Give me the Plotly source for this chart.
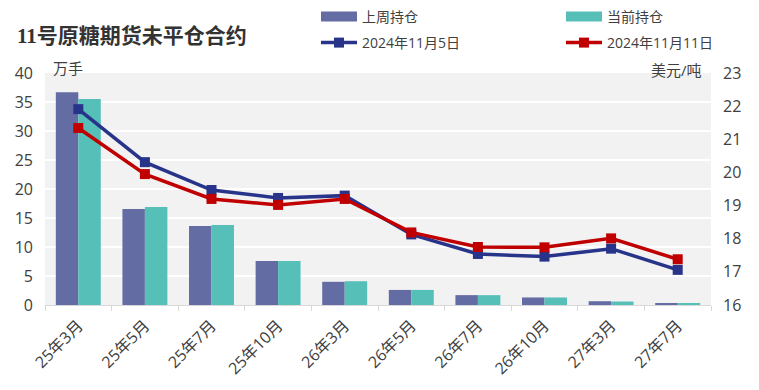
import plotly.graph_objects as go

categories = ["25年3月", "25年5月", "25年7月", "25年10月", "26年3月",
              "26年5月", "26年7月", "26年10月", "27年3月", "27年7月"]
prev_oi = [36.7, 16.55, 13.6, 7.6, 4.0, 2.6, 1.7, 1.3, 0.65, 0.2]
curr_oi = [35.5, 16.9, 13.8, 7.6, 4.1, 2.6, 1.7, 1.3, 0.6, 0.2]
price_1105 = [21.91, 20.31, 19.47, 19.23, 19.30, 18.13, 17.54, 17.46, 17.70, 17.06]
price_1111 = [21.34, 19.95, 19.20, 19.02, 19.20, 18.19, 17.75, 17.74, 18.01, 17.38]

FONT = "Open Sans, Noto Sans CJK SC, sans-serif"
GRAY = "#404040"
C_PREV = "#646ca4"
C_CURR = "#56c0b8"
C_L1 = "#28348a"
C_L2 = "#c00000"
W, H = 759, 390
ML, MR, MT, MB = 45, 48, 73, 85
PW, PH = W - ML - MR, H - MT - MB

fig = go.Figure()
fig.add_trace(go.Bar(x=categories, y=prev_oi, name="上周持仓", showlegend=False,
                     marker=dict(color=C_PREV, line=dict(width=0))))
fig.add_trace(go.Bar(x=categories, y=curr_oi, name="当前持仓", showlegend=False,
                     marker=dict(color=C_CURR, line=dict(width=0))))
# legend proxies for bars (wide rectangle swatches)
fig.add_trace(go.Scatter(x=[None], y=[None], name="上周持仓", mode="lines",
                         line=dict(color=C_PREV, width=10), legend="legend"))
fig.add_trace(go.Scatter(x=[None], y=[None], name="当前持仓", mode="lines",
                         line=dict(color=C_CURR, width=10), legend="legend2"))
fig.add_trace(go.Scatter(x=categories, y=price_1105, name="2024年11月5日", yaxis="y2",
                         mode="lines+markers", line=dict(color=C_L1, width=3.5),
                         marker=dict(symbol="square", size=10, color=C_L1), legend="legend3"))
fig.add_trace(go.Scatter(x=categories, y=price_1111, name="2024年11月11日", yaxis="y2",
                         mode="lines+markers", line=dict(color=C_L2, width=3.5),
                         marker=dict(symbol="square", size=10, color=C_L2), legend="legend4"))


def leg(xpx, ypx):
    return dict(xref="paper", yref="paper", x=(xpx - ML) / PW, y=(H - MB - ypx) / PH,
                xanchor="left", yanchor="middle", itemwidth=36,
                font=dict(size=14, color=GRAY), bgcolor="rgba(0,0,0,0)")


fig.update_layout(
    width=W, height=H,
    margin=dict(l=ML, r=MR, t=MT, b=MB, autoexpand=False),
    paper_bgcolor="white", plot_bgcolor="#f2f2f2",
    barmode="group", bargap=0.325, bargroupgap=0,
    font=dict(family=FONT, color=GRAY, size=14),
    title=dict(text="<b>11号原糖期货未平仓合约</b>", x=17 / W, xref="container",
               y=1 - 36 / H, yref="container", yanchor="middle", xanchor="left",
               font=dict(family="Liberation Serif, DejaVu Serif, Noto Sans CJK SC, serif",
                         size=21, color="#333333")),
    xaxis=dict(range=[-0.5, len(categories) - 0.5], tickangle=-45, tickson="boundaries",
               ticks="outside", ticklen=5, ticklabelstandoff=4,
               tickcolor="#d9d9d9", showline=True, linecolor="#d9d9d9", linewidth=1,
               showgrid=False, tickfont=dict(size=16, color=GRAY), automargin=False),
    yaxis=dict(range=[0, 40], dtick=5, showgrid=True, gridcolor="white", gridwidth=1.5,
               zeroline=False, tickfont=dict(size=16, color=GRAY), automargin=False,
               ticklabelstandoff=11),
    yaxis2=dict(range=[16, 23], dtick=1, overlaying="y", side="right", showgrid=False,
                zeroline=False, tickfont=dict(size=16, color=GRAY), ticklabelstandoff=11,
                automargin=False),
    legend=leg(316, 17),
    legend2=leg(561, 17),
    legend3=leg(316, 43),
    legend4=leg(561, 43),
    annotations=[
        dict(text="万手", xref="paper", yref="paper", x=(51 - ML) / PW, y=(H - MB - 68) / PH,
             xanchor="left", yanchor="middle", showarrow=False, font=dict(size=15, color=GRAY)),
        dict(text="美元/吨", xref="paper", yref="paper", x=(704 - ML) / PW, y=(H - MB - 70) / PH,
             xanchor="right", yanchor="middle", showarrow=False, font=dict(size=15, color=GRAY)),
    ],
)

fig.write_html("out.html", config={"displayModeBar": False},
               post_script="document.body.style.margin='0';")
